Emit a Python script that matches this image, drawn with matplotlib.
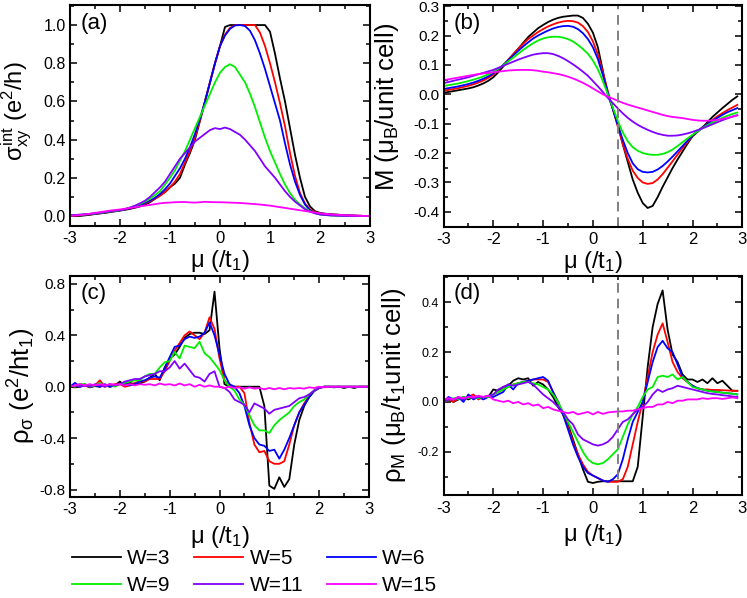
import numpy as np
import matplotlib
matplotlib.use('Agg')
import matplotlib.pyplot as plt
from matplotlib.ticker import MultipleLocator

plt.rcParams['font.family'] = ['Liberation Sans', 'DejaVu Sans']
plt.rcParams['mathtext.fontset'] = 'custom'
plt.rcParams['mathtext.rm'] = 'Liberation Sans'
plt.rcParams['mathtext.it'] = 'Liberation Sans'
plt.rcParams['mathtext.bf'] = 'Liberation Sans:bold'

# ---- data (step 0.1 in mu) ----
labels = ['W=3', 'W=5', 'W=6', 'W=9', 'W=11', 'W=15']
colors = ['#000000', '#ff0000', '#0000ff', '#00ee00', '#8000ff', '#ff00ff']

mu_full = np.round(np.arange(-3.0, 3.05, 0.1), 1)   # -3 .. 3
mu_short = mu_full[:-1]                            # -3 .. 2.9

# (a) sigma_xy^int
sig_w3 = [0.0, 0.0, 0.0, 0.003, 0.006, 0.01, 0.013, 0.016, 0.02, 0.024,
          0.028, 0.032, 0.037, 0.043, 0.05, 0.06, 0.072, 0.09, 0.11, 0.125,
          0.15, 0.17, 0.2, 0.27, 0.33, 0.4, 0.5, 0.6, 0.7, 0.8,
          0.89, 0.99, 1.0, 1.0, 1.0, 1.0, 1.0, 1.0, 1.0, 1.0,
          0.965, 0.85, 0.72, 0.6, 0.46, 0.32, 0.2, 0.1, 0.05, 0.025,
          0.016, 0.012, 0.01, 0.008, 0.006, 0.004, 0.003, 0.002, 0.001, 0.0, 0.0]
sig_w5 = [0.002, 0.003, 0.004, 0.006, 0.008, 0.011, 0.014, 0.018, 0.022, 0.026,
          0.03, 0.034, 0.04, 0.046, 0.054, 0.064, 0.076, 0.09, 0.105, 0.125,
          0.15, 0.18, 0.22, 0.28, 0.34, 0.41, 0.5, 0.6, 0.7, 0.8,
          0.89, 0.95, 0.985, 1.0, 1.0, 1.0, 1.0, 1.0, 0.96, 0.89,
          0.8, 0.7, 0.59, 0.47, 0.33, 0.21, 0.12, 0.065, 0.035, 0.02,
          0.012, 0.009, 0.007, 0.005, 0.004, 0.003, 0.002, 0.001, 0.001, 0.0, 0.0]
sig_w6 = [0.003, 0.004, 0.005, 0.007, 0.009, 0.012, 0.015, 0.019, 0.023, 0.027,
          0.03, 0.035, 0.04, 0.048, 0.057, 0.068, 0.08, 0.095, 0.115, 0.14,
          0.17, 0.21, 0.25, 0.3, 0.36, 0.43, 0.51, 0.6, 0.7, 0.8,
          0.89, 0.945, 0.98, 0.998, 1.0, 0.995, 0.97, 0.92, 0.85, 0.77,
          0.68, 0.59, 0.5, 0.38, 0.27, 0.18, 0.11, 0.06, 0.03, 0.015,
          0.008, 0.006, 0.004, 0.003, 0.002, 0.002, 0.001, 0.001, 0.0, 0.0, 0.0]
sig_w9 = [0.004, 0.005, 0.006, 0.008, 0.01, 0.013, 0.016, 0.02, 0.024, 0.027,
          0.03, 0.036, 0.044, 0.052, 0.062, 0.075, 0.09, 0.11, 0.13, 0.165,
          0.2, 0.24, 0.29, 0.34, 0.4, 0.46, 0.52, 0.58, 0.64, 0.7,
          0.75, 0.78, 0.795, 0.78, 0.74, 0.7, 0.64, 0.57, 0.49, 0.41,
          0.34, 0.28, 0.22, 0.165, 0.12, 0.085, 0.06, 0.04, 0.025, 0.015,
          0.008, 0.005, 0.003, 0.002, 0.001, 0.001, 0.0, 0.0, 0.0, 0.0, 0.0]
sig_w11 = [0.004, 0.005, 0.007, 0.009, 0.011, 0.014, 0.017, 0.021, 0.025, 0.028,
           0.03, 0.036, 0.044, 0.054, 0.066, 0.08, 0.1, 0.125, 0.15, 0.18,
           0.22, 0.26, 0.3, 0.33, 0.36, 0.39, 0.41, 0.43, 0.45, 0.46,
           0.455, 0.463, 0.455, 0.44, 0.425, 0.4, 0.37, 0.34, 0.3, 0.26,
           0.23, 0.2, 0.165, 0.13, 0.1, 0.075, 0.055, 0.035, 0.022, 0.014,
           0.008, 0.005, 0.003, 0.002, 0.001, 0.0, 0.0, 0.0, 0.0, 0.0, 0.0]
sig_w15 = [0.0, 0.002, 0.005, 0.008, 0.012, 0.016, 0.02, 0.024, 0.028, 0.031,
           0.034, 0.038, 0.042, 0.046, 0.05, 0.054, 0.058, 0.062, 0.066, 0.069,
           0.07, 0.072, 0.073, 0.073, 0.071, 0.07, 0.072, 0.074, 0.073, 0.072,
           0.072, 0.071, 0.07, 0.069, 0.068, 0.066, 0.064, 0.062, 0.06, 0.057,
           0.054, 0.05, 0.046, 0.042, 0.038, 0.034, 0.03, 0.026, 0.022, 0.018,
           0.014, 0.011, 0.009, 0.007, 0.005, 0.004, 0.003, 0.002, 0.001, 0.0, 0.0]

# (b) magnetisation M
mag_w3 = [0.005, 0.008, 0.011, 0.014, 0.017, 0.02, 0.024, 0.03, 0.037, 0.046,
          0.058, 0.075, 0.095, 0.115, 0.135, 0.155, 0.175, 0.195, 0.21, 0.225,
          0.236, 0.246, 0.254, 0.26, 0.264, 0.266, 0.268, 0.268, 0.26, 0.24,
          0.21, 0.16, 0.08, 0.0, -0.05, -0.1, -0.17, -0.23, -0.29, -0.335,
          -0.37, -0.387, -0.38, -0.35, -0.315, -0.283, -0.251, -0.222, -0.195, -0.168,
          -0.143, -0.128, -0.113, -0.095, -0.077, -0.062, -0.047, -0.033, -0.019, -0.007]
mag_w5 = [0.012, 0.015, 0.018, 0.021, 0.025, 0.029, 0.034, 0.04, 0.047, 0.056,
          0.067, 0.082, 0.1, 0.118, 0.137, 0.155, 0.172, 0.188, 0.2, 0.212,
          0.222, 0.231, 0.238, 0.244, 0.248, 0.25, 0.249, 0.244, 0.232, 0.212,
          0.18, 0.135, 0.075, 0.01, -0.05, -0.11, -0.17, -0.22, -0.26, -0.285,
          -0.3, -0.305, -0.302, -0.29, -0.272, -0.25, -0.228, -0.205, -0.183, -0.162,
          -0.142, -0.126, -0.112, -0.1, -0.087, -0.075, -0.064, -0.054, -0.045, -0.036]
mag_w6 = [0.018, 0.021, 0.024, 0.027, 0.031, 0.035, 0.04, 0.046, 0.053, 0.061,
          0.071, 0.085, 0.1, 0.116, 0.132, 0.148, 0.163, 0.177, 0.19, 0.2,
          0.209, 0.217, 0.224, 0.229, 0.232, 0.233, 0.23, 0.222, 0.208, 0.188,
          0.16, 0.12, 0.065, 0.005, -0.05, -0.105, -0.155, -0.2, -0.235, -0.255,
          -0.264, -0.266, -0.264, -0.256, -0.244, -0.229, -0.212, -0.194, -0.176, -0.158,
          -0.14, -0.126, -0.113, -0.101, -0.09, -0.08, -0.07, -0.061, -0.054, -0.047]
mag_w9 = [0.028, 0.031, 0.034, 0.037, 0.041, 0.045, 0.05, 0.055, 0.061, 0.068,
          0.076, 0.087, 0.099, 0.112, 0.125, 0.138, 0.151, 0.163, 0.174, 0.183,
          0.19, 0.194, 0.196, 0.196, 0.193, 0.188, 0.18, 0.168, 0.154, 0.138,
          0.115, 0.085, 0.045, 0.0, -0.045, -0.09, -0.13, -0.16, -0.18, -0.192,
          -0.2, -0.204, -0.206, -0.206, -0.203, -0.197, -0.188, -0.176, -0.163, -0.15,
          -0.138, -0.126, -0.115, -0.105, -0.096, -0.088, -0.08, -0.073, -0.067, -0.062]
mag_w11 = [0.038, 0.042, 0.046, 0.05, 0.054, 0.058, 0.063, 0.068, 0.073, 0.078,
           0.083, 0.09, 0.097, 0.104, 0.111, 0.118, 0.124, 0.13, 0.135, 0.138,
           0.14, 0.14, 0.137, 0.131, 0.123, 0.113, 0.102, 0.09, 0.077, 0.063,
           0.045, 0.027, 0.008, -0.012, -0.03, -0.048, -0.065, -0.08, -0.093, -0.104,
           -0.113, -0.121, -0.128, -0.134, -0.138, -0.141, -0.141, -0.14, -0.137, -0.133,
           -0.128, -0.122, -0.116, -0.109, -0.102, -0.095, -0.088, -0.082, -0.076, -0.071]
mag_w15 = [0.048, 0.051, 0.054, 0.057, 0.06, 0.063, 0.066, 0.069, 0.071, 0.073,
           0.075, 0.077, 0.079, 0.081, 0.082, 0.083, 0.083, 0.083, 0.082, 0.08,
           0.077, 0.075, 0.072, 0.069, 0.065, 0.06, 0.054, 0.047, 0.039, 0.03,
           0.02, 0.01, 0.0, -0.008, -0.015, -0.022, -0.029, -0.035, -0.04, -0.045,
           -0.05, -0.055, -0.06, -0.065, -0.07, -0.074, -0.077, -0.079, -0.081, -0.084,
           -0.087, -0.089, -0.09, -0.09, -0.089, -0.087, -0.084, -0.08, -0.076, -0.072]

# (c) rho_sigma
rs_w3 = [0.0, -0.005, 0.0, 0.01, -0.005, 0.005, 0.0, 0.01, 0.0, 0.01,
         0.04, 0.01, 0.03, 0.02, 0.025, 0.04, 0.07, 0.1, 0.05, 0.15,
         0.22, 0.25, 0.31, 0.38, 0.41, 0.42, 0.42, 0.41, 0.44, 0.74,
         0.3, 0.02, 0.0, 0.0, 0.0, 0.0, 0.0, 0.0, 0.0, -0.15,
         -0.77, -0.795, -0.705, -0.78, -0.72, -0.45, -0.26, -0.15, -0.08, -0.035,
         -0.01, 0.0, 0.0, -0.005, 0.0, -0.01, 0.0, -0.01, 0.0, 0.0, 0.0]
rs_w5 = [0.01, 0.0, 0.02, 0.01, 0.0, 0.01, 0.05, 0.0, 0.01, 0.02,
         0.02, 0.0, 0.01, 0.03, 0.04, 0.04, 0.06, 0.06, 0.06, 0.12,
         0.2, 0.28, 0.34, 0.4, 0.43, 0.4, 0.37, 0.42, 0.54, 0.45,
         0.22, 0.05, 0.01, 0.0, 0.0, -0.05, -0.28, -0.45, -0.51, -0.5,
         -0.58, -0.6, -0.6, -0.58, -0.45, -0.3, -0.2, -0.13, -0.07, -0.03,
         -0.01, 0.0, 0.0, 0.0, 0.0, 0.0, 0.0, 0.0, 0.0, 0.0, 0.0]
rs_w6 = [0.0, 0.03, 0.0, 0.02, 0.0, 0.01, 0.0, 0.02, 0.0, 0.01,
         0.02, 0.03, 0.01, 0.02, 0.04, 0.05, 0.07, 0.08, 0.07, 0.14,
         0.23, 0.31, 0.32, 0.37, 0.39, 0.38, 0.39, 0.42, 0.5, 0.4,
         0.25, 0.1, 0.02, 0.0, -0.05, -0.15, -0.3, -0.4, -0.45, -0.46,
         -0.5, -0.49, -0.56, -0.49, -0.4, -0.3, -0.2, -0.14, -0.08, -0.03,
         -0.01, 0.0, 0.0, 0.0, 0.0, 0.0, 0.0, 0.0, 0.0, 0.0, 0.0]
rs_w9 = [0.01, 0.0, 0.02, 0.02, 0.0, 0.01, 0.03, 0.0, 0.02, 0.0,
         0.02, 0.03, 0.04, 0.05, 0.05, 0.08, 0.1, 0.1, 0.15, 0.19,
         0.2, 0.27, 0.22, 0.32, 0.31, 0.3, 0.35, 0.26, 0.23, 0.18,
         0.13, 0.05, 0.0, -0.03, -0.1, -0.14, -0.22, -0.3, -0.34, -0.34,
         -0.36, -0.3, -0.26, -0.23, -0.2, -0.15, -0.12, -0.1, -0.06, -0.03,
         -0.01, 0.0, 0.0, 0.0, 0.0, 0.0, 0.0, 0.0, 0.0, 0.0, 0.0]
rs_w11 = [0.0, 0.01, 0.0, 0.01, 0.0, 0.02, 0.01, 0.0, 0.02, 0.01,
          0.02, 0.04, 0.05, 0.06, 0.06, 0.08, 0.09, 0.1, 0.12, 0.12,
          0.15, 0.2, 0.14, 0.18, 0.13, 0.08, 0.07, 0.04, 0.1, 0.12,
          0.0, -0.01, -0.04, -0.1, -0.12, -0.14, -0.2, -0.13, -0.15, -0.17,
          -0.21, -0.18, -0.17, -0.16, -0.15, -0.12, -0.09, -0.08, -0.06, -0.03,
          -0.01, 0.0, 0.0, 0.0, 0.0, 0.0, 0.0, 0.0, 0.0, 0.0, 0.0]
rs_w15 = [0.0, 0.01, 0.02, 0.01, 0.02, 0.01, 0.02, 0.01, 0.02, 0.015,
          0.02, 0.01, 0.02, 0.01, 0.02, 0.015, 0.02, 0.01, 0.025, 0.015,
          0.02, 0.01, 0.025, 0.01, 0.02, 0.0, 0.015, 0.0, 0.01, 0.0,
          0.0, -0.01, 0.0, -0.01, -0.005, -0.015, -0.005, -0.015, -0.01, -0.02,
          -0.01, -0.02, -0.01, -0.02, -0.01, -0.015, -0.01, -0.015, -0.005, -0.01,
          0.0, -0.005, 0.0, 0.0, 0.0, 0.0, 0.0, 0.0, 0.0, 0.0, 0.0]

# (d) rho_M
rm_w3 = [0.0, 0.01, 0.0, 0.01, 0.02, 0.01, 0.02, 0.015, 0.02, 0.02,
         0.05, 0.045, 0.06, 0.065, 0.085, 0.095, 0.09, 0.095, 0.065, 0.08,
         0.07, 0.05, 0.02, -0.02, -0.05, -0.09, -0.15, -0.21, -0.27, -0.32,
         -0.325, -0.32, -0.318, -0.318, -0.318, -0.318, -0.318, -0.318, -0.318, -0.26,
         -0.06, 0.14, 0.3, 0.393, 0.447, 0.29, 0.19, 0.16, 0.11, 0.09,
         0.09, 0.08, 0.09, 0.075, 0.095, 0.075, 0.085, 0.065, 0.045, 0.045]
rm_w5 = [0.0, 0.01, 0.0, 0.015, 0.01, 0.02, 0.03, 0.01, 0.02, 0.02,
         0.03, 0.04, 0.05, 0.06, 0.07, 0.075, 0.08, 0.085, 0.09, 0.09,
         0.09, 0.08, 0.04, 0.0, -0.05, -0.1, -0.16, -0.21, -0.25, -0.28,
         -0.295, -0.305, -0.315, -0.32, -0.32, -0.32, -0.31, -0.26, -0.17, -0.08,
         0.0, 0.1, 0.2, 0.27, 0.315, 0.24, 0.16, 0.12, 0.095, 0.08,
         0.065, 0.055, 0.05, 0.05, 0.048, 0.048, 0.047, 0.046, 0.045, 0.044]
rm_w6 = [0.0, 0.02, 0.01, 0.02, 0.0, 0.03, 0.01, 0.02, 0.01, 0.02,
         0.02, 0.03, 0.04, 0.07, 0.05, 0.075, 0.08, 0.085, 0.09, 0.095,
         0.1, 0.085, 0.04, 0.0, -0.05, -0.11, -0.17, -0.22, -0.26, -0.285,
         -0.295, -0.305, -0.315, -0.32, -0.31, -0.29, -0.23, -0.15, -0.08, -0.04,
         0.0, 0.08, 0.16, 0.22, 0.245, 0.215, 0.2, 0.15, 0.1, 0.08,
         0.065, 0.055, 0.05, 0.045, 0.042, 0.04, 0.037, 0.035, 0.033, 0.03]
rm_w9 = [0.0, 0.01, 0.015, 0.01, 0.02, 0.015, 0.02, 0.015, 0.02, 0.02,
         0.03, 0.04, 0.05, 0.06, 0.07, 0.075, 0.08, 0.08, 0.075, 0.07,
         0.06, 0.05, 0.03, 0.0, -0.04, -0.08, -0.12, -0.16, -0.2, -0.23,
         -0.245, -0.25, -0.245, -0.23, -0.21, -0.19, -0.14, -0.09, -0.05, -0.02,
         0.02, 0.05, 0.06, 0.1, 0.105, 0.1, 0.11, 0.09, 0.1, 0.08,
         0.06, 0.055, 0.05, 0.045, 0.042, 0.04, 0.037, 0.035, 0.033, 0.03]
rm_w11 = [0.0, 0.01, 0.01, 0.015, 0.01, 0.02, 0.015, 0.02, 0.02, 0.025,
          0.03, 0.05, 0.06, 0.07, 0.065, 0.07, 0.075, 0.08, 0.07, 0.05,
          0.03, 0.015, 0.0, -0.02, -0.04, -0.07, -0.09, -0.13, -0.15, -0.16,
          -0.17, -0.175, -0.17, -0.16, -0.14, -0.11, -0.08, -0.07, -0.05, -0.03,
          -0.02, 0.0, 0.03, 0.05, 0.04, 0.05, 0.055, 0.065, 0.06, 0.055,
          0.05, 0.045, 0.04, 0.035, 0.032, 0.03, 0.027, 0.025, 0.022, 0.02]
rm_w15 = [0.01, 0.015, 0.01, 0.02, 0.015, 0.02, 0.02, 0.025, 0.02, 0.025,
          0.01, 0.005, 0.0, 0.005, -0.005, 0.0, -0.01, -0.005, -0.015, -0.01,
          -0.025, -0.02, -0.03, -0.035, -0.04, -0.045, -0.04, -0.05, -0.045, -0.04,
          -0.05, -0.04, -0.048, -0.042, -0.04, -0.038, -0.038, -0.035, -0.035, -0.03,
          -0.025, -0.02, -0.02, -0.01, -0.01, 0.0, -0.005, 0.005, 0.005, 0.01,
          0.01, 0.01, 0.015, 0.012, 0.015, 0.015, 0.012, 0.015, 0.018, 0.015]

sigma_sets = [sig_w3, sig_w5, sig_w6, sig_w9, sig_w11, sig_w15]
mag_sets = [mag_w3, mag_w5, mag_w6, mag_w9, mag_w11, mag_w15]
rs_sets = [rs_w3, rs_w5, rs_w6, rs_w9, rs_w11, rs_w15]
rm_sets = [rm_w3, rm_w5, rm_w6, rm_w9, rm_w11, rm_w15]

mu_dash = 0.5

# ---- figure ----
W, H = 747, 598
fig = plt.figure(figsize=(W / 100, H / 100), dpi=100)


def px_axes(left, top, right, bottom):
    return fig.add_axes([left / W, 1 - bottom / H, (right - left) / W, (bottom - top) / H])


ax_a = px_axes(70, 5, 370, 225.5)
ax_b = px_axes(443.5, 5, 742.3, 226.5)
ax_c = px_axes(70, 275.7, 369, 496.7)
ax_d = px_axes(443.5, 275.7, 742.3, 495)

# ax, mu, curves, ylim, major, minor, y tick size, tag, ylabel, ylabel size, ylabel (x, y), xlabel y, dashed?
panels = [
    (ax_a, mu_full, sigma_sets, (-0.05, 1.105), 0.2, 0.1, 11.5, '(a)',
     r'$\sigma^{\rm int}_{\rm xy}$ (e$^2$/h)', 17, (-0.12, 0.52), -0.1, False),
    (ax_b, mu_short, mag_sets, (-0.45, 0.304), 0.1, 0.05, 11, '(b)',
     r'M ($\mu_{\rm B}$/unit cell)', 18.5, (-0.143, 0.54), -0.1, True),
    (ax_c, mu_full, rs_sets, (-0.856, 0.864), 0.4, 0.2, 11, '(c)',
     r'$\rho_\sigma$ (e$^2$/ht$_1$)', 18.5, (-0.108, 0.5), -0.125, False),
    (ax_d, mu_short, rm_sets, (-0.373, 0.506), 0.2, 0.1, 9, '(d)',
     r'$\rho_{\rm M}$ ($\mu_{\rm B}$/t$_1$unit cell)', 18.5, (-0.118, 0.5), -0.125, True),
]

for ax, mu, sets, ylim, ymaj, ymin, ytsize, tag, ylab, ylsize, ylxy, xly, dash in panels:
    for vals, c, lab in zip(sets, colors, labels):
        ax.plot(mu, vals, color=c, lw=1.3, label=lab)
    if dash:
        ax.axvline(mu_dash, color='#808080', ls=(0, (5, 3)), lw=1.4)
    ax.set_xlim(-3, 3)
    ax.set_ylim(*ylim)
    ax.xaxis.set_major_locator(MultipleLocator(1))
    ax.xaxis.set_minor_locator(MultipleLocator(0.5))
    ax.yaxis.set_major_locator(MultipleLocator(ymaj))
    ax.yaxis.set_minor_locator(MultipleLocator(ymin))
    ax.yaxis.set_major_formatter(plt.FuncFormatter(lambda v, p: f'{v:.1f}'))
    ax.xaxis.set_major_formatter(plt.FuncFormatter(lambda v, p: f'{v:.0f}'))
    ax.tick_params(which='both', direction='in', top=True, right=True, width=1.1)
    ax.tick_params(which='major', length=5)
    ax.tick_params(which='minor', length=3)
    ax.tick_params(axis='x', labelsize=12, pad=4)
    ax.tick_params(axis='y', labelsize=ytsize, pad=3)
    for s in ax.spines.values():
        s.set_linewidth(1.5)
    ax.text(0.035, 0.965, tag, transform=ax.transAxes, fontsize=16, va='top', ha='left')
    ax.set_xlabel(r'$\mu$ (/t$_1$)', fontsize=17)
    ax.xaxis.set_label_coords(0.5, xly)
    ax.set_ylabel(ylab, fontsize=ylsize)
    ax.yaxis.set_label_coords(*ylxy)

# legend reads row by row: reorder for matplotlib's column filling
handles, leg_labels = ax_a.get_legend_handles_labels()
order = [0, 3, 1, 4, 2, 5]
fig.legend([handles[i] for i in order], [leg_labels[i] for i in order],
           ncol=3, loc='upper left',
           bbox_to_anchor=(71.7 / W, 1 - 549 / H), frameon=False,
           fontsize=15, handlelength=2.35, handletextpad=0.3,
           columnspacing=1.15, labelspacing=0.38, borderpad=0, borderaxespad=0)

fig.savefig('out.png', dpi=100)
